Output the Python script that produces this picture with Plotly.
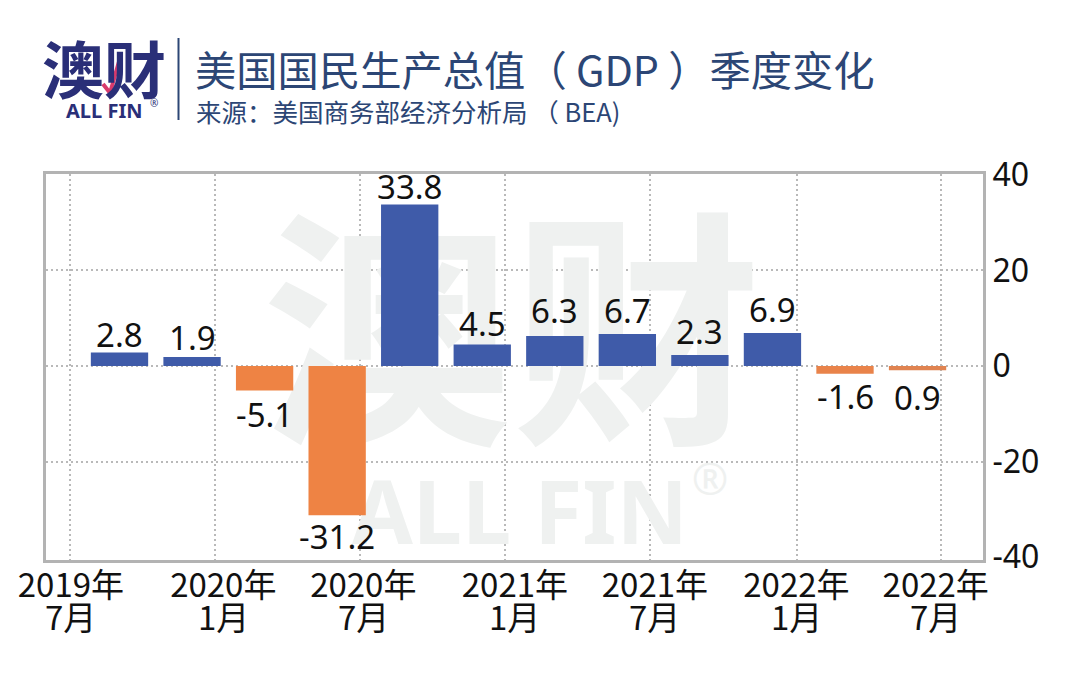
import plotly.graph_objects as go

quarters = ["2019Q3","2019Q4","2020Q1","2020Q2","2020Q3","2020Q4","2021Q1","2021Q2","2021Q3","2021Q4","2022Q1","2022Q2"]
values = [2.8, 1.9, -5.1, -31.2, 33.8, 4.5, 6.3, 6.7, 2.3, 6.9, -1.6, -0.9]
value_labels = ["2.8","1.9","-5.1","-31.2","33.8","4.5","6.3","6.7","2.3","6.9","-1.6","0.9"]
bar_colors = ["#3f5ba9","#3f5ba9","#ee8344","#ee8344","#3f5ba9","#3f5ba9","#3f5ba9","#3f5ba9","#3f5ba9","#3f5ba9","#e9834a","#e08350"]
label_gaps = [18, 19, 24, 21, 18, 21, 25, 23, 24, 24, 23, 27]
grid_positions = [-0.68, 1.316, 3.315, 5.31, 7.31, 9.34, 11.32]
label_positions = [-0.67, 1.43, 3.36, 5.45, 7.38, 9.33, 11.25]
year_labels = ["2019年","2020年","2020年","2021年","2021年","2022年","2022年"]
month_labels = ["7月","1月","7月","1月","7月","1月","7月"]
y_ticks = [-40, -20, 0, 20, 40]
y_tick_labels = ["-40","-20","0","20","40"]
y_grid = [-20, 0, 20]

W, H = 1080, 693
L, R, T, B = 46, 983, 174, 560
FONT = "Noto Sans CJK SC"
INK = "#111111"
NAVY = "#2c4675"
LOGO = "#2a2f78"
GRID = "#b9b9b9"
x_step = 72.55
x_first = 119.5
y0 = 366
ppu = 4.78
x_range = [(L - x_first) / x_step, (R - x_first) / x_step]
y_range = [-(B - y0) / ppu, (y0 - T) / ppu]

fig = go.Figure()

def wm(x, y, text, size, family=FONT):
    fig.add_trace(go.Scatter(
        x=[(x - x_first) / x_step], y=[(y0 - y) / ppu], mode="text", text=[text], textposition="middle center",
        textfont=dict(size=size, color="#eff1f0", family=family), hoverinfo="skip", showlegend=False, cliponaxis=False))

wm(512, 362, "<b>澳财</b>", 250)
wm(520, 522, "<b>ALL FIN</b>", 88, "Noto Sans")
wm(710, 484, "®", 44, "Noto Sans")

fig.add_trace(go.Bar(
    x=list(range(len(values))), y=values, xaxis="x2", yaxis="y2",
    marker=dict(color=bar_colors, line_width=0), width=0.79,
    hoverinfo="skip", showlegend=False,
))

for i, (v, text, gap) in enumerate(zip(values, value_labels, label_gaps)):
    fig.add_annotation(xref="x2", yref="y2", x=i, y=v, text=text, showarrow=False, xanchor="center", yanchor="middle",
                       yshift=gap if v > 0 else -gap, font=dict(size=33, color=INK, family="Noto Sans"))

def note(x, y, text, size, color=INK, family=FONT, anchor="left"):
    fig.add_annotation(xref="paper", yref="paper", x=(x-L)/(R-L), y=(B-y)/(B-T), text=text, showarrow=False,
                       xanchor=anchor, yanchor="middle", font=dict(size=size, color=color, family=family))

# header
note(104, 67, "<b>澳财</b>", 62, LOGO, FONT, "center")
note(104, 110, "<b>ALL FIN</b>", 20, LOGO, "Noto Sans", "center")
note(154, 103, "®", 10, LOGO, "Noto Sans", "center")
note(193, 68, "美国国民生产总值（ GDP ）季度变化", 41.3, NAVY)
note(194, 110, "来源：美国商务部经济分析局 （ BEA)", 25.5, NAVY)

# month line of each x label, set closer to the year than a line break allows
for pos, month in zip(label_positions, month_labels):
    fig.add_annotation(xref="x", yref="paper", x=pos, y=(B-616)/(B-T), text=month, showarrow=False,
                       xanchor="center", yanchor="middle", font=dict(size=33, color=INK, family=FONT))

def vx(x):
    return (x - L) / (R - L)
def vy(y):
    return (B - y) / (B - T)

fig.add_shape(type="line", xref="paper", yref="paper", x0=vx(178.5), x1=vx(178.5), y0=vy(38), y1=vy(120),
              line=dict(color=NAVY, width=2))
fig.add_shape(type="path", xref="paper", yref="paper",
              path=f"M {vx(103)} {vy(84)} L {vx(110)} {vy(93)} L {vx(120)} {vy(58)}",
              line=dict(color="#d83a6c", width=4))

fig.update_layout(
    width=W, height=H, paper_bgcolor="white", plot_bgcolor="white",
    margin=dict(l=L, r=W-R, t=T, b=H-B, pad=0),
    font=dict(family=FONT, color=INK),
    xaxis=dict(range=x_range, tickmode="array", tickvals=label_positions, ticktext=year_labels,
               tickangle=0, ticks="", showgrid=False, zeroline=False, showline=True, mirror=True, ticklabelstandoff=-6,
               linecolor="#b3b3b3", linewidth=3, tickfont=dict(size=33, family=FONT, color=INK)),
    yaxis=dict(range=y_range, side="right", tickmode="array", tickvals=y_ticks, ticktext=y_tick_labels, ticks="",
               showgrid=False, zeroline=False, showline=True, mirror=True, linecolor="#b3b3b3",
               linewidth=3, tickfont=dict(size=32, family="Noto Sans", color=INK)),
    xaxis2=dict(range=x_range, overlaying="x", side="bottom", tickmode="array", tickvals=grid_positions,
                showticklabels=False, ticks="", showgrid=True, gridcolor=GRID, griddash="2px,3px", gridwidth=2,
                zeroline=False, showline=False),
    yaxis2=dict(range=y_range, overlaying="y", side="right", tickmode="array", tickvals=y_grid,
                showticklabels=False, ticks="", showgrid=True, gridcolor=GRID, griddash="2px,3px", gridwidth=2,
                zeroline=False, showline=False),
)
fig.write_html("out.html", config={"displayModeBar": False}, post_script="document.body.style.margin='0';")
